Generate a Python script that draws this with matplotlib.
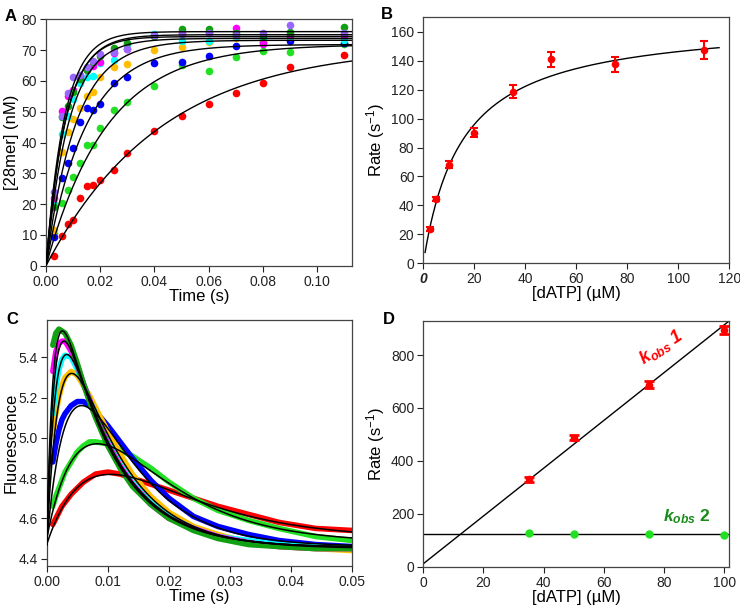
import numpy as np
import matplotlib
matplotlib.use("Agg")
import matplotlib.pyplot as plt

plt.rcParams['font.family'] = ['Liberation Sans', 'DejaVu Sans']
plt.rcParams['mathtext.fontset'] = 'custom'
plt.rcParams['mathtext.it'] = 'Liberation Sans:italic:bold'
plt.rcParams['mathtext.rm'] = 'Liberation Sans'

# ---- panel A: product formation ----
t_a = [0.003, 0.006, 0.008, 0.010, 0.0125, 0.015, 0.0175, 0.020, 0.025, 0.030,
       0.040, 0.050, 0.060, 0.070, 0.080, 0.090, 0.110]
a_red = [3.3, 9.8, 13.7, 14.7, 22.1, 26.0, 26.3, 27.8, 31.1, 36.5, 43.8, 48.6, 52.4, 56.1, 59.3, 64.6, 68.3]
a_lime = [10.5, 20.4, 24.5, 28.8, 33.3, 39.3, 39.3, 44.8, 50.5, 53.3, 58.3, 65.3, 63.3, 67.6, 69.7, 69.3, 72.0]
a_blue = [9.2, 28.6, 33.2, 38.1, 46.8, 51.1, 50.6, 52.6, 59.4, 61.4, 65.9, 66.2, 68.1, 71.4, 72.5, 72.8, 72.4]
a_orange = [11.6, 37.0, 43.3, 47.6, 51.1, 55.1, 56.5, 61.2, 64.6, 65.4, 70.1, 70.9, 72.6, 73.8, 73.6, 74.3, 74.0]
a_cyan = [20.5, 42.7, 48.5, 54.0, 59.4, 61.2, 61.6, 65.7, 66.8, 72.0, 75.2, 72.8, 73.0, 74.5, 74.0, 74.6, 73.3]
a_magenta = [22.0, 50.2, 55.1, 57.0, 61.5, 63.5, 65.0, 66.0, 69.0, 70.3, 74.6, 75.5, 75.8, 77.1, 71.9, 75.0, 75.0]
a_dkgreen = [19.2, 48.4, 51.9, 56.5, 60.5, 63.5, 66.0, 68.0, 70.6, 72.2, 74.5, 76.8, 76.8, 75.7, 74.5, 76.0, 77.6]
a_purple = [23.8, 48.6, 56.0, 61.4, 62.0, 64.5, 66.5, 68.7, 69.4, 70.3, 75.0, 75.1, 75.5, 75.0, 75.7, 78.2, 75.5]
a_series = [a_red, a_lime, a_blue, a_orange, a_cyan, a_magenta, a_dkgreen, a_purple]
a_colors = ['#ff0000', '#22e022', '#0000ff', '#ffbf00', '#00ffff', '#ff00ff', '#11a011', '#9966ff']
# single exponential fits: amplitude (nM), rate (1/s)
a_amp = [71.5, 71.9, 71.8, 73.2, 73.8, 74.4, 75.0, 76.0]
a_rate = [23.5, 44.5, 68.0, 90.5, 119.0, 141.0, 137.0, 147.0]

# ---- panel B: rate vs [dATP] ----
b_conc = [2.5, 5, 10, 20, 35, 50, 75, 110]
b_rate = [23.5, 44.5, 68.0, 90.3, 118.5, 140.9, 137.4, 147.3]
b_err = [1.3, 1.6, 2.5, 3.3, 4.5, 5.3, 5.2, 6.2]
b_kmax, b_kd = 168.4, 15.1

# ---- panel C: stopped-flow fluorescence ----
t_c = [0.001, 0.0015, 0.002, 0.0025, 0.003, 0.004, 0.005, 0.006, 0.007, 0.008, 0.010,
       0.012, 0.014, 0.017, 0.020, 0.024, 0.028, 0.033, 0.038, 0.044, 0.050]
c_red = [4.57, 4.60, 4.63, 4.66, 4.68, 4.72, 4.75, 4.78, 4.80, 4.82, 4.83,
         4.82, 4.80, 4.77, 4.74, 4.70, 4.66, 4.62, 4.58, 4.55, 4.54]
c_lime = [4.66, 4.71, 4.75, 4.79, 4.83, 4.88, 4.93, 4.96, 4.98, 4.98, 4.97,
          4.94, 4.91, 4.85, 4.78, 4.70, 4.64, 4.59, 4.55, 4.51, 4.49]
c_blue = [4.88, 4.97, 5.04, 5.09, 5.12, 5.16, 5.18, 5.18, 5.16, 5.13, 5.06,
          4.98, 4.90, 4.79, 4.70, 4.61, 4.56, 4.52, 4.49, 4.47, 4.46]
c_orange = [5.02, 5.12, 5.20, 5.26, 5.30, 5.33, 5.31, 5.26, 5.21, 5.15, 5.03,
            4.92, 4.82, 4.71, 4.63, 4.56, 4.52, 4.48, 4.46, 4.45, 4.44]
c_cyan = [5.12, 5.25, 5.34, 5.39, 5.41, 5.40, 5.34, 5.27, 5.19, 5.12, 4.98,
          4.87, 4.78, 4.68, 4.61, 4.55, 4.51, 4.49, 4.47, 4.46, 4.45]
c_magenta = [5.33, 5.43, 5.47, 5.48, 5.48, 5.43, 5.36, 5.27, 5.19, 5.11, 4.97,
             4.86, 4.77, 4.67, 4.60, 4.55, 4.51, 4.48, 4.46, 4.45, 4.45]
c_dkgreen = [5.46, 5.52, 5.54, 5.53, 5.52, 5.46, 5.37, 5.27, 5.18, 5.10, 4.96,
             4.85, 4.76, 4.67, 4.60, 4.54, 4.50, 4.47, 4.46, 4.45, 4.45]
c_series = [c_red, c_lime, c_blue, c_orange, c_cyan, c_magenta, c_dkgreen]
c_colors = ['#ff0000', '#22e022', '#0000ff', '#ffbf00', '#00ffff', '#ff00ff', '#11a011']
# double exponential fits: F0, Fend, A, k1, k2
c_fits = [(4.47, 4.50, 2.96, 115, 85),
          (4.50, 4.48, 3.93, 140, 100),
          (4.48, 4.46, 2.78, 240, 120),
          (4.47, 4.45, 1.97, 430, 120),
          (4.47, 4.455, 1.76, 620, 120),
          (4.47, 4.455, 1.70, 780, 120),
          (4.47, 4.455, 1.69, 900, 120)]

# ---- panel D: observed rates vs [dATP] ----
d_conc = [35, 50, 75, 100]
d_k1 = [330, 488, 688, 895]
d_k1_err = [10, 10, 14, 16]
d_k2 = [128, 123, 122, 119]
d_slope, d_icpt = 9.03, 11.0
d_k2_mean = 123.4

LBL = 12


def style_axes(ax):
    for s in ax.spines.values():
        s.set_color('#444444')
        s.set_linewidth(0.9)
    ax.tick_params(direction='out', length=4, width=0.8, labelsize=10,
                   colors='#222222', top=False, right=False, pad=2.5)


fig = plt.figure(figsize=(7.4, 6.09), dpi=100)
axA = fig.add_axes([0.0622, 0.5637, 0.4139, 0.4046])
axB = fig.add_axes([0.5720, 0.5677, 0.4135, 0.4039])
axC = fig.add_axes([0.0631, 0.0711, 0.4130, 0.4034])
axD = fig.add_axes([0.5720, 0.0695, 0.4135, 0.4039])

# A
tt = np.linspace(0, 0.113, 400)
for amp, k in zip(a_amp, a_rate):
    axA.plot(tt, amp * (1 - np.exp(-k * tt)), color='black', lw=1.0, zorder=3)
for ys, c in zip(a_series, a_colors):
    axA.plot(t_a, ys, 'o', color=c, ms=5.5, mec='none', zorder=2)
axA.set_xlim(0, 0.113)
axA.set_ylim(0, 80)
axA.set_xticks(np.arange(0, 0.101, 0.02))
axA.set_xticklabels(['0.00', '0.02', '0.04', '0.06', '0.08', '0.10'])
axA.set_yticks(range(0, 81, 10))
axA.set_xlabel('Time (s)', fontsize=LBL, labelpad=0)
axA.set_ylabel('[28mer] (nM)', fontsize=LBL, labelpad=2)
style_axes(axA)

# B
cc = np.linspace(0.7, 116, 300)
axB.plot(cc, b_kmax * cc / (b_kd + cc), color='black', lw=1.0)
axB.errorbar(b_conc, b_rate, yerr=b_err, fmt='o', color='#ff0000', ms=5.5,
             mec='none', ecolor='#ff0000', elinewidth=1.5, capsize=3, capthick=1.5)
axB.set_xlim(0, 120)
axB.set_ylim(0, 170)
axB.set_xticks(range(0, 121, 20))
axB.set_yticks(range(0, 161, 20))
axB.set_xlabel('[dATP] (µM)', fontsize=LBL, labelpad=0)
axB.set_ylabel('Rate (s$^{\\mathregular{-1}}$)', fontsize=LBL, labelpad=3)
style_axes(axB)
lbl0 = axB.get_xticklabels()[0]
lbl0.set_fontweight('bold')
lbl0.set_fontstyle('italic')

# C
tf = np.linspace(0, 0.05, 500)
for ys, c in zip(c_series, c_colors):
    axC.plot(t_c, ys, '-', color=c, lw=4, solid_joinstyle='round',
             solid_capstyle='round', zorder=2)
for f0, fend, amp, k1, k2 in c_fits:
    b = amp - (f0 - fend)
    axC.plot(tf, fend + amp * np.exp(-k2 * tf) - b * np.exp(-k1 * tf),
             color='black', lw=1.1, zorder=3)
axC.set_xlim(0, 0.05)
axC.set_ylim(4.365, 5.585)
axC.set_xticks(np.arange(0, 0.051, 0.01))
axC.set_xticklabels(['0.00', '0.01', '0.02', '0.03', '0.04', '0.05'])
axC.set_yticks([4.4, 4.6, 4.8, 5.0, 5.2, 5.4])
axC.set_yticklabels(['4.4', '4.6', '4.8', '5.0', '5.2', '5.4'])
axC.set_xlabel('Time (s)', fontsize=LBL, labelpad=0)
axC.set_ylabel('Fluorescence', fontsize=LBL, labelpad=0)
style_axes(axC)

# D
xx = np.array([0, 101.7])
axD.plot(xx, d_slope * xx + d_icpt, color='black', lw=1.0)
axD.axhline(d_k2_mean, color='black', lw=1.0)
axD.errorbar(d_conc, d_k1, yerr=d_k1_err, fmt='o', color='#ff0000', ms=5.5,
             mec='none', ecolor='#ff0000', elinewidth=1.5, capsize=3.5, capthick=2)
axD.plot(d_conc, d_k2, 'o', color='#22e022', ms=6, mec='none')
axD.set_xlim(0, 101.7)
axD.set_ylim(0, 930)
axD.set_xticks(range(0, 101, 20))
axD.set_yticks(range(0, 801, 200))
axD.set_xlabel('[dATP] (µM)', fontsize=LBL, labelpad=0)
axD.set_ylabel('Rate (s$^{\\mathregular{-1}}$)', fontsize=LBL, labelpad=3)
style_axes(axD)
axD.text(79, 830, '$k_{obs}$ 1', color='#ff0000', fontsize=13, fontweight='bold',
         style='italic', rotation=33, ha='center', va='center')
axD.text(87.5, 190, '$k_{obs}$ 2', color='#1a8c1a', fontsize=12.5, fontweight='bold',
         ha='center', va='center')

# panel letters
for lab, x, y in [('A', 0.006, 0.985), ('B', 0.515, 0.988),
                  ('C', 0.009, 0.488), ('D', 0.517, 0.488)]:
    fig.text(x, y, lab, fontsize=12, fontweight='bold', ha='left', va='top')

fig.savefig('out.png', dpi=100)
